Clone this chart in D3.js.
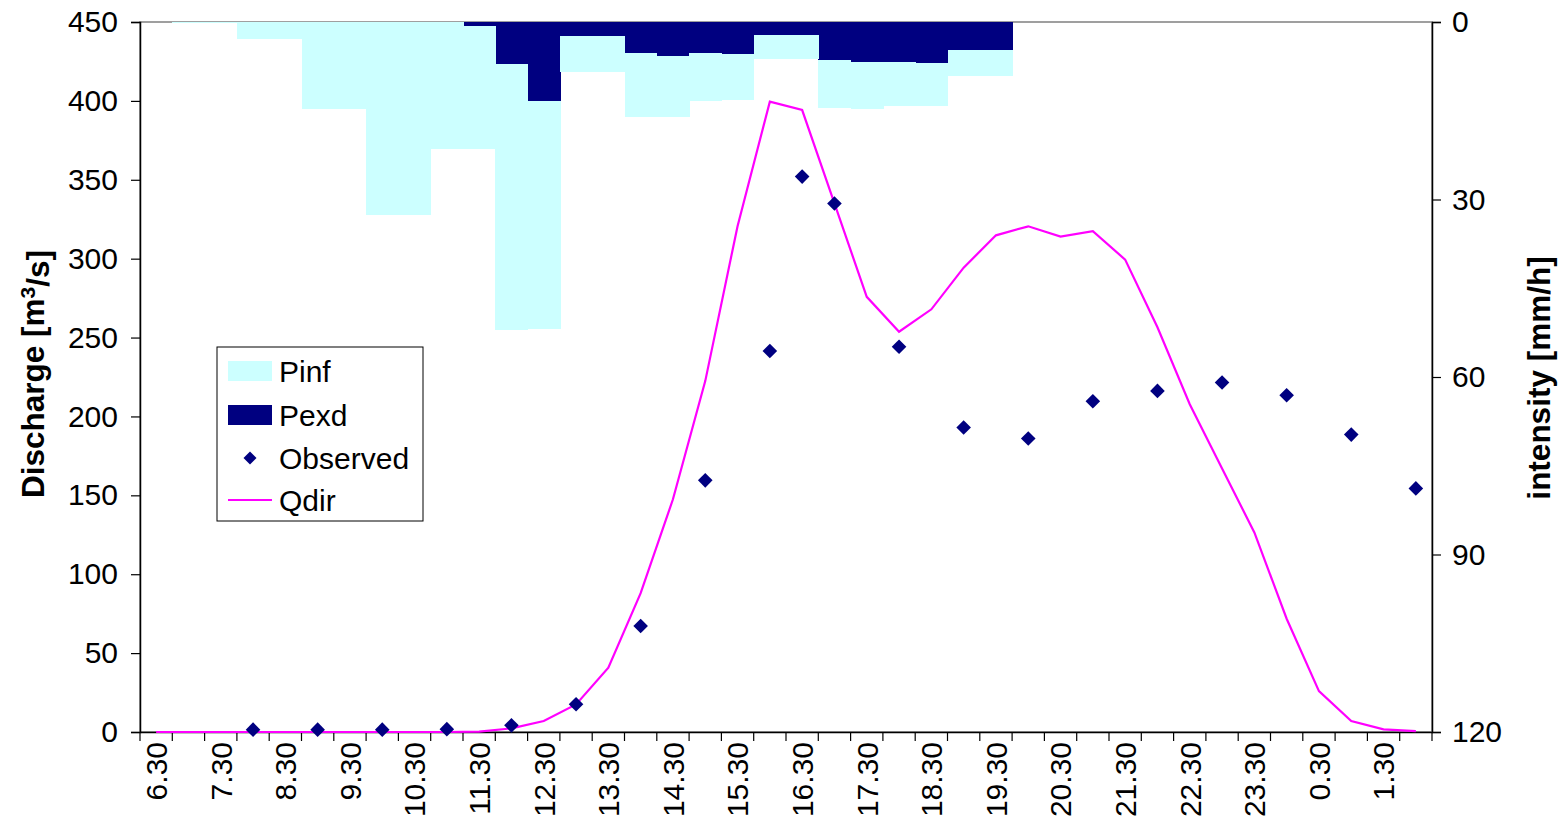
<!DOCTYPE html>
<html>
<head>
<meta charset="utf-8">
<script src="https://cdn.jsdelivr.net/npm/d3@7"></script>
<style>
  html, body { margin: 0; padding: 0; background: #ffffff; }
  svg { display: block; }
  text { font-family: "Liberation Sans", Arial, sans-serif; fill: #000; }
</style>
</head>
<body>
<svg id="chart" width="1559" height="835"></svg>
<script>
// ---- data ----
const categories = ["6.30","7.00","7.30","8.00","8.30","9.00","9.30","10.00","10.30","11.00",
  "11.30","12.00","12.30","13.00","13.30","14.00","14.30","15.00","15.30","16.00",
  "16.30","17.00","17.30","18.00","18.30","19.00","19.30","20.00","20.30","21.00",
  "21.30","22.00","22.30","23.00","23.30","0.00","0.30","1.00","1.30","2.00"];
const tickLabels = ["6.30","7.30","8.30","9.30","10.30","11.30","12.30","13.30","14.30","15.30",
  "16.30","17.30","18.30","19.30","20.30","21.30","22.30","23.30","0.30","1.30"];
const dischargeTicks = [0,50,100,150,200,250,300,350,400,450];
const intensityTicks = [0,30,60,90,120];

// intensity [mm/h]
const Pexd = [0,0,0,0,0,0,0,0,0,0,
  0.6,7.1,13.3,2.4,2.4,5.2,5.8,5.3,5.4,2.2,
  2.2,6.4,6.8,6.8,6.9,4.7,4.7,0,0,0,
  0,0,0,0,0,0,0,0,0,0];
const Pinf = [0,0.2,0.2,2.9,2.9,14.7,14.7,32.6,32.6,21.5,
  20.9,44.9,38.6,6.0,6.0,10.9,10.3,8.0,7.7,4.0,
  4.0,8.2,7.9,7.4,7.3,4.4,4.4,0,0,0,
  0,0,0,0,0,0,0,0,0,0];
// discharge [m3/s]
const Qdir = [0,0,0,0,0,0,0,0,0,0,
  0.3,2.3,7,17.5,40.8,88,147.5,222.4,320.6,399.5,
  394.2,335,275.8,253.7,267.9,294.3,314.8,320.5,314,317.4,
  299.4,256.5,207.7,167,126.5,71.8,25.9,7,1.7,0.5];
const Observed = [null,null,null,1.5,null,1.5,null,1.5,null,1.8,
  null,4.2,null,17.6,null,67.2,null,159.5,null,241.5,
  352,335,null,244.2,null,193,null,186,null,209.6,
  null,216.2,null,221.5,null,213.4,null,188.5,null,154.4];

// ---- layout ----
const L = 140, R = 1432, T = 22, B = 732;
const svg = d3.select("#chart");
const FONT = 30;
const TFONT = 31.5;

const x = d3.scaleBand().domain(categories).range([L, R]).paddingInner(0).paddingOuter(0);
const yL = d3.scaleLinear().domain([0, 450]).range([B, T]);
const yR = d3.scaleLinear().domain([0, 120]).range([T, B]);

// plot area border
svg.append("rect").attr("x", L).attr("y", T).attr("width", R - L).attr("height", B - T)
  .attr("fill", "#fff").attr("stroke", "#808080").attr("stroke-width", 1.5);

// bars (stacked downward from top on reversed right axis)
const stackData = categories.map((c, i) => ({ c, Pexd: Pexd[i], Pinf: Pinf[i] }));
const stack = d3.stack().keys(["Pexd", "Pinf"])(stackData);
const barColors = { Pexd: "#000080", Pinf: "#CCFFFF" };
stack.forEach(layer => {
  svg.append("g").attr("shape-rendering", "crispEdges")
    .selectAll("rect").data(layer).join("rect")
    .attr("x", d => x(d.data.c))
    .attr("width", x.bandwidth() + 0.6)
    .attr("y", d => yR(d[0]))
    .attr("height", d => Math.max(0, yR(d[1]) - yR(d[0])))
    .attr("fill", barColors[layer.key]);
});

// left axis
const gL = svg.append("g").attr("transform", `translate(${L},0)`)
  .call(d3.axisLeft(yL).tickValues(dischargeTicks).tickSize(9).tickPadding(13).tickFormat(d3.format("d")));
gL.select(".domain").attr("stroke", "#000").attr("stroke-width", 1.5);
gL.selectAll(".tick line").attr("stroke", "#000").attr("stroke-width", 1.2);
gL.selectAll("text").style("font-size", FONT + "px").style("font-family", '"Liberation Sans", Arial, sans-serif');

// right axis
const gR = svg.append("g").attr("transform", `translate(${R},0)`)
  .call(d3.axisRight(yR).tickValues(intensityTicks).tickSize(9).tickPadding(11).tickFormat(d3.format("d")));
gR.select(".domain").attr("stroke", "#000").attr("stroke-width", 1.5);
gR.selectAll(".tick line").attr("stroke", "#000").attr("stroke-width", 1.2);
gR.selectAll("text").style("font-size", FONT + "px").style("font-family", '"Liberation Sans", Arial, sans-serif');

// bottom axis: labels at every other category
const gB = svg.append("g").attr("transform", `translate(0,${B})`)
  .call(d3.axisBottom(x).tickValues(tickLabels).tickSize(0));
gB.select(".domain").attr("stroke", "#000").attr("stroke-width", 1.5);
gB.selectAll("text")
  .style("font-size", FONT + "px").style("font-family", '"Liberation Sans", Arial, sans-serif')
  .attr("transform", "rotate(-90)")
  .attr("text-anchor", "end")
  .attr("x", -10).attr("y", 0).attr("dy", "0.36em");
// tick marks at category boundaries
const bounds = categories.map(c => x(c)).concat([x.range()[1]]);
gB.append("g").selectAll("line").data(bounds).join("line")
  .attr("x1", d => d).attr("x2", d => d).attr("y1", 0).attr("y2", 9)
  .attr("stroke", "#000").attr("stroke-width", 1.2);

// Qdir line (drawn over the axes, like the reference)
const line = d3.line().x((d, i) => x(categories[i]) + x.bandwidth() / 2).y(d => yL(d));
svg.append("path").datum(Qdir).attr("d", line)
  .attr("fill", "none").attr("stroke", "#FF00FF").attr("stroke-width", 2.2)
  .attr("stroke-linejoin", "miter");

// Observed diamonds
const diamond = s => `M0,${-s}L${s},0L0,${s}L${-s},0Z`;
svg.append("g").selectAll("path")
  .data(Observed.map((v, i) => ({ v, c: categories[i] })).filter(d => d.v !== null))
  .join("path")
  .attr("transform", d => `translate(${x(d.c) + x.bandwidth() / 2},${yL(d.v)})`)
  .attr("d", diamond(7.3))
  .attr("fill", "#000080");

// axis titles
const tL = svg.append("text")
  .attr("transform", `translate(44,374) rotate(-90)`)
  .attr("text-anchor", "middle")
  .style("font-size", TFONT + "px").style("font-weight", "bold");
tL.append("tspan").text("Discharge [m");
tL.append("tspan").text("3").attr("dy", "-0.45em").style("font-size", "21px");
tL.append("tspan").text("/s]").attr("dy", "0.45em");

svg.append("text")
  .attr("transform", `translate(1550,378) rotate(-90)`)
  .attr("text-anchor", "middle")
  .style("font-size", TFONT + "px").style("font-weight", "bold")
  .text("intensity [mm/h]");

// legend
const leg = svg.append("g");
leg.append("rect").attr("x", 217).attr("y", 347).attr("width", 206).attr("height", 174)
  .attr("fill", "#fff").attr("stroke", "#000").attr("stroke-width", 1);
const items = [
  { name: "Pinf", type: "rect", color: "#CCFFFF", cy: 371 },
  { name: "Pexd", type: "rect", color: "#000080", cy: 415 },
  { name: "Observed", type: "diamond", color: "#000080", cy: 458 },
  { name: "Qdir", type: "line", color: "#FF00FF", cy: 500 }
];
items.forEach(it => {
  if (it.type === "rect") {
    leg.append("rect").attr("x", 228).attr("y", it.cy - 10).attr("width", 44).attr("height", 20).attr("fill", it.color);
  } else if (it.type === "diamond") {
    leg.append("path").attr("transform", `translate(250,${it.cy})`).attr("d", diamond(6.5)).attr("fill", it.color);
  } else {
    leg.append("line").attr("x1", 228).attr("x2", 272).attr("y1", it.cy).attr("y2", it.cy)
      .attr("stroke", it.color).attr("stroke-width", 2.2);
  }
  leg.append("text").attr("x", 279).attr("y", it.cy).attr("dy", "0.35em")
    .style("font-size", FONT + "px").text(it.name);
});
</script>
</body>
</html>
